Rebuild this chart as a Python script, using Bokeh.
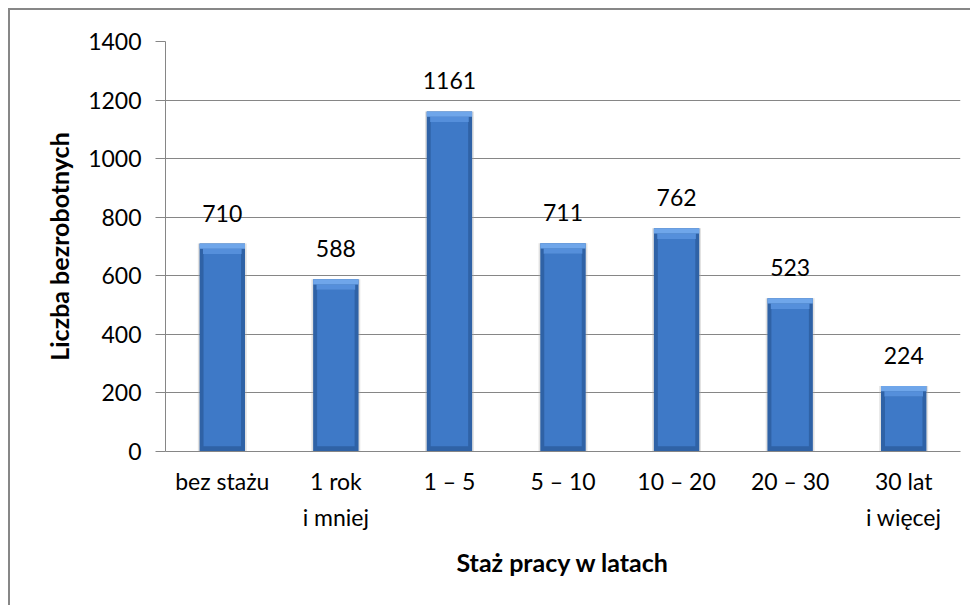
import numpy as np
from bokeh.plotting import figure
from bokeh.models import ColumnDataSource, FactorRange, Range1d, FixedTicker, LabelSet
from bokeh.core.properties import value
from bokeh.embed import file_html
from bokeh.resources import INLINE

# ---- data ----
categories = ["bez stażu", "1 rok\ni mniej", "1 – 5", "5 – 10", "10 – 20", "20 – 30", "30 lat\ni więcej"]
counts = [710, 588, 1161, 711, 762, 523, 224]
y_ticks = [0, 200, 400, 600, 800, 1000, 1200, 1400]
y_title = "Liczba bezrobotnych"
x_title = "Staż pracy w latach"

FONT = "Lato"
GRID = "#868686"
LBL_SIZE = "23px"
TITLE_SIZE = "25px"

vals = np.array(counts, dtype=float)
bevel = 18.0
src = ColumnDataSource(data=dict(
    cat=categories,
    val=vals,
    lbl=[str(c) for c in counts],
    cap_bottom=vals - bevel,
    cap2_bottom=vals - 2 * bevel,
    inner_top=vals - 2 * bevel,
))

p = figure(x_range=FactorRange(*categories), y_range=Range1d(0, 1400),
           width=962, height=597, output_backend="svg", toolbar_location=None,
           min_border_left=155, min_border_right=12, min_border_top=31, min_border_bottom=156)
p.styles = {"margin-left": "8px", "margin-top": "8px",
            "border-left": "2px solid #878787", "border-top": "2px solid #878787"}

p.outline_line_color = None
p.background_fill_color = "white"
p.border_fill_color = "white"
p.xgrid.grid_line_color = None
p.ygrid.grid_line_color = GRID
p.ygrid.grid_line_width = 1
p.ygrid.ticker = FixedTicker(ticks=y_ticks)

# bars (shadow, body, inner, bevel)
p.vbar(x="cat", top="val", width=0.43, source=src, fill_color="#a8a8a8", fill_alpha=0.35, line_color=None)
p.vbar(x="cat", top="val", width=0.40, source=src, fill_color="#2f62a6", line_color=None)
p.vbar(x="cat", bottom=bevel, top="inner_top", width=0.33, source=src, fill_color="#3e79c7", line_color=None)
p.vbar(x="cat", bottom="cap2_bottom", top="cap_bottom", width=0.34, source=src, fill_color="#558fdb", line_color=None)
p.vbar(x="cat", bottom="cap_bottom", top="val", width=0.40, source=src, fill_color="#6fa6ea", line_color=None)

labels = LabelSet(x="cat", y="val", text="lbl", source=src, text_align="center",
                  text_baseline="alphabetic", y_offset=22, text_font=value(FONT),
                  text_font_size=LBL_SIZE, text_color="#000000")
p.add_layout(labels)

# y axis
ya = p.yaxis[0]
ya.ticker = FixedTicker(ticks=y_ticks)
ya.axis_line_color = GRID
ya.major_tick_line_color = GRID
ya.major_tick_out = 10
ya.major_tick_in = 0
ya.minor_tick_line_color = None
ya.major_label_standoff = 14
ya.major_label_text_font = FONT
ya.major_label_text_font_size = LBL_SIZE
ya.major_label_text_color = "#000000"
ya.axis_label = y_title
ya.axis_label_text_font = FONT
ya.axis_label_text_font_size = TITLE_SIZE
ya.axis_label_text_font_style = "bold"
ya.axis_label_text_color = "#000000"
ya.axis_label_standoff = 11

# x axis
xa = p.xaxis[0]
xa.axis_line_color = GRID
xa.major_tick_line_color = None
xa.minor_tick_line_color = None
xa.major_label_standoff = 9
xa.major_label_text_font = FONT
xa.major_label_text_font_size = LBL_SIZE
xa.major_label_text_color = "#000000"
xa.major_label_text_line_height = 1.3
xa.axis_label = x_title
xa.axis_label_text_font = FONT
xa.axis_label_text_font_size = TITLE_SIZE
xa.axis_label_text_font_style = "bold"
xa.axis_label_text_color = "#000000"
xa.axis_label_standoff = 13

open("out.html", "w").write(file_html(p, INLINE))
